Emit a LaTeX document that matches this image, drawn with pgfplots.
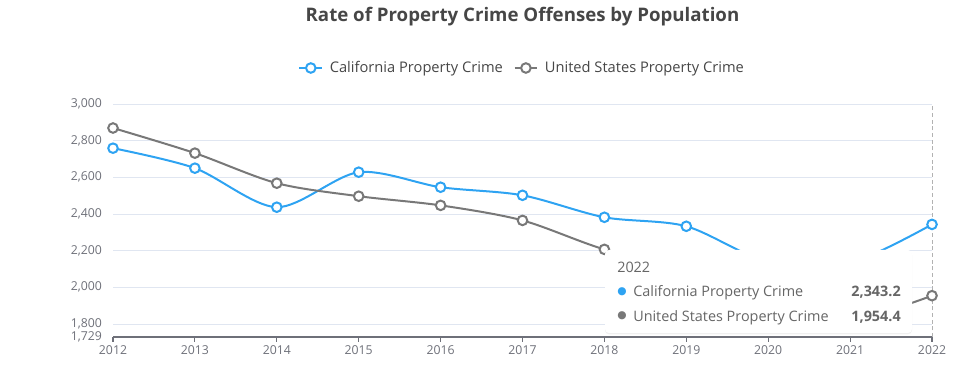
\documentclass[border=0pt]{standalone}
\usepackage{pgfplots}
\pgfplotsset{compat=1.18}
\usepackage{fontspec}
\setmainfont{Open Sans}
\newfontfamily\symfont{DejaVu Sans}
\usetikzlibrary{shadows}
\definecolor{cablue}{HTML}{2EA3F2}
\definecolor{usgray}{HTML}{787878}
\definecolor{ticklab}{HTML}{6E7079}
\definecolor{gridc}{HTML}{E0E6F1}
\definecolor{titlec}{HTML}{464646}
\definecolor{tiptext}{HTML}{666666}
\begin{document}
\begin{tikzpicture}
\begin{axis}[
  scale only axis, width=614.25pt, height=174.75pt,
  xmin=2012, xmax=2022, ymin=1729, ymax=3000,
  clip=false,
  axis x line*=bottom, axis y line*=left,
  y axis line style={draw=none},
  x axis line style={draw=ticklab, line width=0.8pt, -},
  xtick={2012,2013,...,2022},
  ytick={1729,1800,2000,2200,2400,2600,2800,3000},
  ytick style={draw=none},
  xtick style={draw=ticklab, line width=0.8pt},
  tick align=outside, major tick length=3.75pt,
  ymajorgrids, grid style={draw=gridc, line width=0.6pt},
  /pgf/number format/assume math mode=true,
  x tick label style={/pgf/number format/1000 sep={}, font=\fontsize{9.2}{10}\selectfont, text=ticklab, yshift=1pt},
  y tick label style={/pgf/number format/1000 sep={,}, font=\fontsize{9.2}{10}\selectfont, text=ticklab, xshift=-1pt},
  legend style={at={(0.5,1)}, anchor=center, yshift=27pt, draw=none, fill=none,
    legend columns=2, font=\fontsize{11}{12}\selectfont, text=titlec,
    /tikz/every odd column/.append style={column sep=3pt},
    /tikz/every even column/.append style={column sep=6pt}},
  legend image code/.code={\draw[#1, mark repeat=2, mark phase=2] plot coordinates {(0pt,0pt) (8.5pt,0pt) (17pt,0pt)};},
]
\draw[densely dashed, draw=black!30, line width=0.6pt] (axis cs:2022,1729) -- (axis cs:2022,3000);
\addplot[cablue, line width=1.5pt, smooth, mark=*, mark size=3.6pt, mark options={fill=white, draw=cablue, line width=1.5pt, solid}]
 coordinates {(2012,2759) (2013,2650) (2014,2437) (2015,2628) (2016,2546) (2017,2502) (2018,2382) (2019,2333) (2020,2138) (2021,2134) (2022,2343.2)};
\addlegendentry{California Property Crime}
\addplot[usgray, line width=1.5pt, smooth, mark=*, mark size=3.6pt, mark options={fill=white, draw=usgray, line width=1.5pt, solid}]
 coordinates {(2012,2869) (2013,2732) (2014,2568) (2015,2497) (2016,2447) (2017,2365) (2018,2207) (2019,2110) (2020,1958) (2021,1832) (2022,1954.4)};
\addlegendentry{United States Property Crime}
\end{axis}
% title
\node[font=\fontsize{14}{16}\selectfont\bfseries, text=titlec] at ([yshift=65.25pt]current axis.north) {Rate of Property Crime Offenses by Population};
% tooltip
\coordinate (tt) at ([xshift=369pt,yshift=-109.5pt]current axis.north west);
\fill[white, rounded corners=3pt, drop shadow={opacity=0.12, shadow xshift=0pt, shadow yshift=-1pt}] (tt) rectangle ++(230.25pt,-62.25pt);
\node[anchor=base west, font=\fontsize{10.8}{12}\selectfont, text=tiptext, inner sep=0pt] at ([xshift=9pt,yshift=-17.25pt]tt) {2022};
\node[anchor=base west, font=\fontsize{10.8}{12}\selectfont, text=tiptext, inner sep=0pt] at ([xshift=21pt,yshift=-35.25pt]tt) {California Property Crime};
\node[anchor=base east, font=\fontsize{10.8}{12}\selectfont\bfseries, text=tiptext, inner sep=0pt] at ([xshift=222pt,yshift=-35.25pt]tt) {2,343.2};
\node[anchor=base west, font=\fontsize{10.8}{12}\selectfont, text=tiptext, inner sep=0pt] at ([xshift=21pt,yshift=-54pt]tt) {United States Property Crime};
\node[anchor=base east, font=\fontsize{10.8}{12}\selectfont\bfseries, text=tiptext, inner sep=0pt] at ([xshift=222pt,yshift=-54pt]tt) {1,954.4};
\node[anchor=center, font=\symfont\fontsize{8}{8}\selectfont, text=cablue, inner sep=0pt] at ([xshift=12.75pt,yshift=-31.5pt]tt) {●};
\node[anchor=center, font=\symfont\fontsize{8}{8}\selectfont, text=usgray, inner sep=0pt] at ([xshift=12.75pt,yshift=-49.5pt]tt) {●};
% bounding box
\pgfresetboundingbox
\path ([xshift=-84.75pt,yshift=-38.25pt]current axis.south west) rectangle ([xshift=36pt,yshift=78pt]current axis.north east);
\end{tikzpicture}
\end{document}
